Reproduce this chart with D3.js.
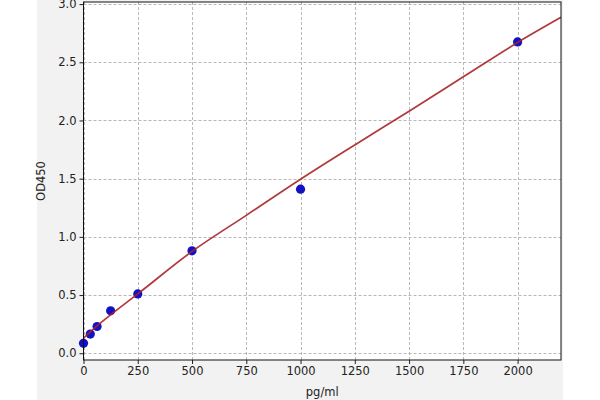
<!DOCTYPE html>
<html><head><meta charset="utf-8">
<script src="https://cdn.jsdelivr.net/npm/d3@7"></script>
<style>
html,body{margin:0;padding:0;background:#fff;}
svg{display:block;}
text{font-family:"DejaVu Sans",sans-serif;fill:#222;}
</style></head>
<body><svg id="c" width="600" height="400"></svg>
<script>
// data
const concentrations = [0, 31.25, 62.5, 125, 250, 500, 1000, 2000];
const odValues = [0.085, 0.165, 0.23, 0.365, 0.51, 0.88, 1.41, 2.675];
// fitted curve
const fitX = [0, 62.5, 125, 250, 500, 750, 1000, 1250, 1500, 1750, 2000, 2200];
const fitY = [0.13, 0.235, 0.33, 0.51, 0.875, 1.185, 1.495, 1.79, 2.08, 2.375, 2.67, 2.886];
const xTicks = [0, 250, 500, 750, 1000, 1250, 1500, 1750, 2000];
const yTicks = [0.0, 0.5, 1.0, 1.5, 2.0, 2.5, 3.0];

const svg = d3.select("#c");
const L = 83.5, R = 561, T = 2, B = 360;
const x = d3.scaleLinear().domain([0, 2200]).range([L, R]);
const y = d3.scaleLinear().domain([-0.058, 3.018]).range([B, T]);

// figure background
svg.append("rect").attr("x", 37).attr("y", 0).attr("width", 526).attr("height", 400).attr("fill", "#f2f2f2");
svg.append("rect").attr("x", L).attr("y", T).attr("width", R - L).attr("height", B - T).attr("fill", "#fff");

// grid
const g = svg.append("g");
g.selectAll(".gx").data(xTicks).join("line")
  .attr("x1", d => Math.round(x(d)) + 0.5).attr("x2", d => Math.round(x(d)) + 0.5)
  .attr("y1", T).attr("y2", B)
  .attr("stroke", "#b0b0b0").attr("stroke-width", 0.9).attr("stroke-dasharray", "3,2");
g.selectAll(".gy").data(yTicks).join("line")
  .attr("y1", d => Math.round(y(d)) + 0.5).attr("y2", d => Math.round(y(d)) + 0.5)
  .attr("x1", L).attr("x2", R)
  .attr("stroke", "#b0b0b0").attr("stroke-width", 0.9).attr("stroke-dasharray", "3,2");

// points
svg.append("g").selectAll("circle").data(concentrations).join("circle")
  .attr("cx", d => x(d)).attr("cy", (d, i) => y(odValues[i])).attr("r", 4.6)
  .attr("fill", "#1212c4");

// fitted line
const line = d3.line().x(d => x(d[0])).y(d => y(d[1])).curve(d3.curveMonotoneX);
svg.append("path").datum(fitX.map((v, i) => [v, fitY[i]]))
  .attr("d", line).attr("fill", "none").attr("stroke", "#a82226").attr("stroke-width", 1.7)
  .attr("stroke-opacity", 0.9);

// axes
const xAxis = d3.axisBottom(x).tickValues(xTicks).tickFormat(d3.format("d")).tickSize(4).tickPadding(3);
const yAxis = d3.axisLeft(y).tickValues(yTicks).tickFormat(d3.format(".1f")).tickSize(4).tickPadding(3);
const gx = svg.append("g").attr("transform", `translate(0,${B})`).call(xAxis);
const gy = svg.append("g").attr("transform", `translate(${L},0)`).call(yAxis);
[gx, gy].forEach(a => {
  a.select(".domain").remove();
  a.selectAll("text").style("font-size", "11.5px").attr("fill", "#222");
  a.selectAll(".tick line").attr("stroke", "#222");
});

// frame
svg.append("rect").attr("x", L).attr("y", T).attr("width", R - L).attr("height", B - T)
  .attr("fill", "none").attr("stroke", "#111").attr("stroke-width", 1);

// titles
svg.append("text").attr("x", (L + R) / 2).attr("y", 396).attr("text-anchor", "middle")
  .style("font-size", "11.5px").text("pg/ml");
svg.append("text").attr("transform", `translate(45,${(T + B) / 2}) rotate(-90)`).attr("text-anchor", "middle")
  .style("font-size", "11.5px").text("OD450");
</script></body></html>
